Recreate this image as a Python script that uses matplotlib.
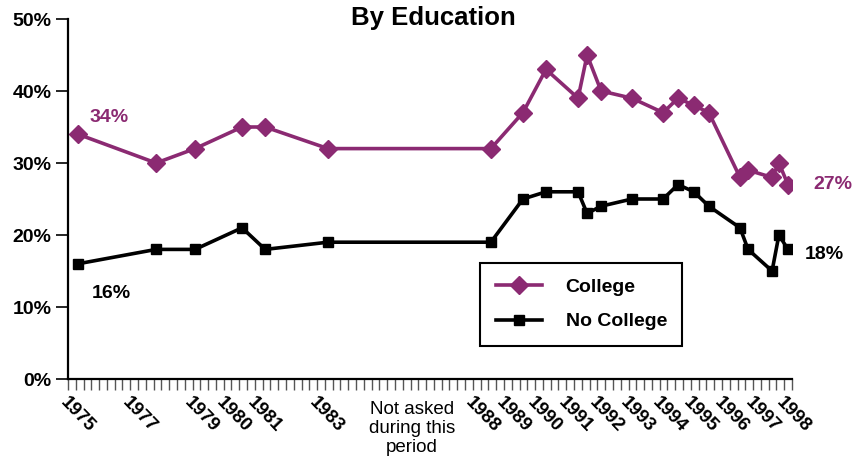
import matplotlib
matplotlib.use("Agg")
import matplotlib.pyplot as plt
import numpy as np

# Data (survey dates in fractional years)
dates = [1975.32, 1977.83, 1979.08, 1980.59, 1981.33, 1983.35, 1988.58, 1989.61,
         1990.35, 1991.38, 1991.67, 1992.12, 1993.11, 1994.11, 1994.59, 1995.10,
         1995.58, 1996.58, 1996.84, 1997.61, 1997.83, 1998.12]
college = [34, 30, 32, 35, 35, 32, 32, 37, 43, 39, 45, 40, 39, 37, 39, 38, 37, 28, 29, 28, 30, 27]
no_college = [16, 18, 18, 21, 18, 19, 19, 25, 26, 26, 23, 24, 25, 25, 27, 26, 24, 21, 18, 15, 20, 18]
year_labels = [1975, 1977, 1979, 1980, 1981, 1983, 1988, 1989, 1990, 1991, 1992,
               1993, 1994, 1995, 1996, 1997, 1998]
y_ticks = [0, 10, 20, 30, 40, 50]

PURPLE = "#8b2a72"
FONT = ["Liberation Sans", "DejaVu Sans"]
plt.rcParams["font.family"] = FONT

fig = plt.figure(figsize=(8.54, 4.68), dpi=100)
ax = fig.add_axes([68 / 854, 1 - 379 / 468, (792 - 68) / 854, (379 - 19) / 468])

ax.plot(dates, college, color=PURPLE, lw=2.6, marker="D", ms=9,
        markerfacecolor=PURPLE, markeredgecolor=PURPLE, label="College")
ax.plot(dates, no_college, color="black", lw=2.6, marker="s", ms=7.5,
        markerfacecolor="black", label="No College")

ax.set_xlim(1975, 1998.25)
ax.set_ylim(0, 50)
for s in ["top", "right"]:
    ax.spines[s].set_visible(False)
ax.spines["left"].set_linewidth(1.6)
ax.spines["bottom"].set_linewidth(1.6)

ax.set_yticks(y_ticks)
ax.set_yticklabels([f"{v}%" for v in y_ticks], fontsize=14, fontweight="bold")
ax.tick_params(axis="y", direction="out", length=9, width=1.2, pad=3)

ax.set_xticks(np.arange(1975, 1998.26, 0.25))
ax.set_xticklabels([])
ax.tick_params(axis="x", direction="out", length=8, width=1.0, color="#555555")

for yr in year_labels:
    ax.annotate(str(yr), xy=(yr, 0), xycoords=("data", "axes fraction"),
                xytext=(-5, -21), textcoords="offset pixels",
                rotation=-46, rotation_mode="anchor", ha="left", va="center",
                fontsize=13.5, fontweight="bold")

ax.annotate("Not asked\nduring this\nperiod", xy=(1986.05, 0),
            xycoords=("data", "axes fraction"), xytext=(0, -22),
            textcoords="offset pixels", ha="center", va="top",
            fontsize=13.5, linespacing=1.15)

# Endpoint labels
lbl = dict(textcoords="offset pixels", fontsize=14, fontweight="bold", va="center")
ax.annotate(f"{college[0]}%", xy=(dates[0], college[0]), xytext=(12, 17),
            color=PURPLE, ha="left", **lbl)
ax.annotate(f"{no_college[0]}%", xy=(dates[0], no_college[0]), xytext=(14, -30),
            color="black", ha="left", **lbl)
ax.annotate(f"{college[-1]}%", xy=(dates[-1], college[-1]), xytext=(25, 0),
            color=PURPLE, ha="left", **lbl)
ax.annotate(f"{no_college[-1]}%", xy=(dates[-1], no_college[-1]), xytext=(17, -5),
            color="black", ha="left", **lbl)

fig.text(0.508, 0.962, "By Education", ha="center", va="center",
         fontsize=18.5, fontweight="bold")

leg = ax.legend(loc="upper left", bbox_to_anchor=(480 / 854, 1 - 263 / 468),
                bbox_transform=fig.transFigure, fancybox=False, framealpha=1,
                edgecolor="black", prop={"size": 14, "weight": "bold"},
                handlelength=2.4, borderpad=0.8, labelspacing=0.85,
                handletextpad=1.2, borderaxespad=0)
leg.get_frame().set_linewidth(1.5)

fig.savefig("out.png", dpi=100)
